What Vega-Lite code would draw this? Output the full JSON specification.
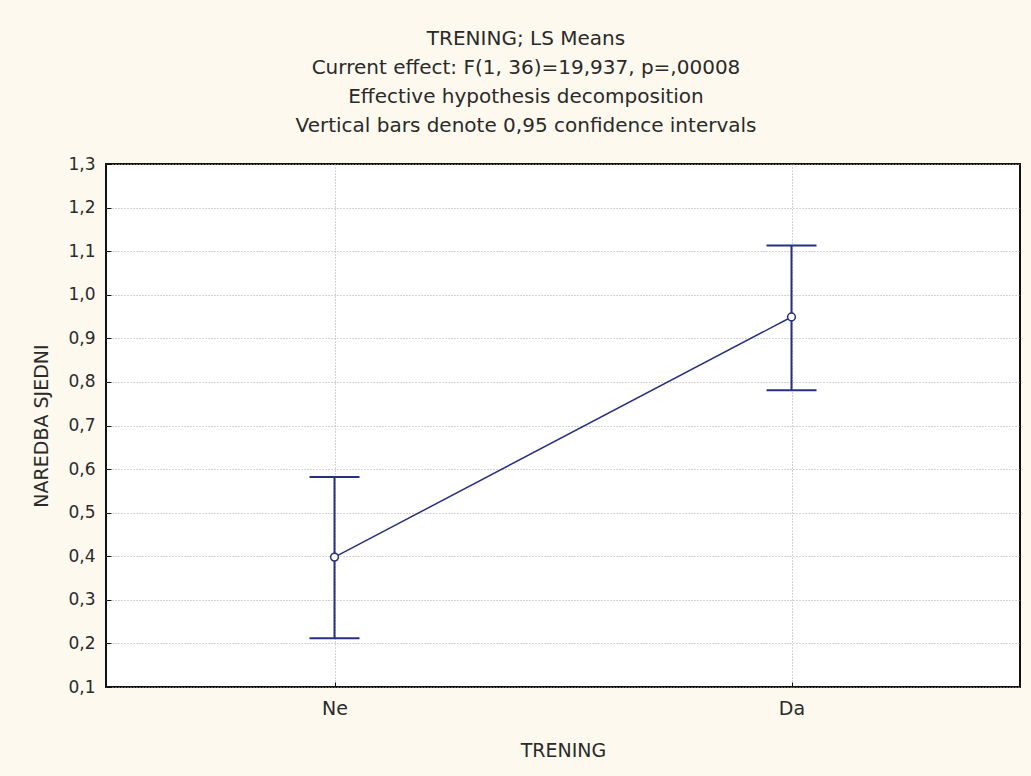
{
  "$schema": "https://vega.github.io/schema/vega-lite/v6.json",
  "autosize": {"type": "none"},
  "width": 914,
  "height": 523,
  "padding": {"left": 106, "top": 164, "right": 11, "bottom": 89},
  "background": "#fdf9ee",
  "title": {
    "text": ["TRENING; LS Means", "Current effect: F(1, 36)=19,937, p=,00008", "Effective hypothesis decomposition", "Vertical bars denote 0,95 confidence intervals"],
    "font": "DejaVu Sans",
    "fontSize": 20,
    "fontWeight": "normal",
    "color": "#2a2a2a",
    "lineHeight": 29,
    "anchor": "middle",
    "dx": -37,
    "offset": 19
  },
  "config": {
    "view": {"stroke": "#111111", "strokeWidth": 2, "fill": "#ffffff"},
    "font": "DejaVu Sans"
  },
  "data": {
    "values": [
      {"TRENING": "Ne", "mean": 0.398, "lo": 0.212, "hi": 0.582},
      {"TRENING": "Da", "mean": 0.949, "lo": 0.781, "hi": 1.113}
    ]
  },
  "encoding": {
    "x": {
      "field": "TRENING",
      "type": "nominal",
      "sort": ["Ne", "Da"],
      "scale": {"type": "point", "padding": 0.5},
      "axis": {
        "title": "TRENING",
        "titleFont": "DejaVu Sans",
        "titleFontSize": 19,
        "titleFontWeight": "normal",
        "titleColor": "#2a2a2a",
        "titlePadding": 23,
        "labelFont": "DejaVu Sans",
        "labelFontSize": 19,
        "labelColor": "#2a2a2a",
        "labelAngle": 0,
        "labelPadding": 17,
        "domain": false,
        "ticks": true,
        "tickSize": -5,
        "tickColor": "#111111",
        "grid": true,
        "gridColor": "#a8a8a8",
        "gridDash": [1, 2],
        "gridWidth": 1
      }
    }
  },
  "layer": [
    {
      "mark": {"type": "line", "color": "#27307f", "strokeWidth": 1.5},
      "encoding": {
        "y": {
          "field": "mean",
          "type": "quantitative",
          "scale": {"domain": [0.1, 1.3], "nice": false, "zero": false},
          "axis": {
            "title": "NAREDBA SJEDNI",
            "titleFont": "DejaVu Sans",
            "titleFontSize": 19,
            "titleFontWeight": "normal",
            "titleColor": "#2a2a2a",
            "titlePadding": 16,
            "values": [0.1, 0.2, 0.3, 0.4, 0.5, 0.6, 0.7, 0.8, 0.9, 1.0, 1.1, 1.2, 1.3],
            "labelExpr": "replace(format(datum.value, '.1f'), '.', ',')",
            "labelFont": "DejaVu Sans",
            "labelFontSize": 17,
            "labelColor": "#2a2a2a",
            "labelPadding": 16,
            "domain": false,
            "ticks": true,
            "tickSize": -5,
            "tickColor": "#111111",
            "grid": true,
            "gridColor": "#a8a8a8",
            "gridDash": [1, 2],
            "gridWidth": 1
          }
        }
      }
    },
    {
      "mark": {"type": "rule", "color": "#27307f", "strokeWidth": 2},
      "encoding": {
        "y": {"field": "lo", "type": "quantitative"},
        "y2": {"field": "hi"}
      }
    },
    {
      "mark": {"type": "tick", "color": "#27307f", "thickness": 2, "size": 50, "opacity": 1},
      "encoding": {"y": {"field": "lo", "type": "quantitative"}}
    },
    {
      "mark": {"type": "tick", "color": "#27307f", "thickness": 2, "size": 50, "opacity": 1},
      "encoding": {"y": {"field": "hi", "type": "quantitative"}}
    },
    {
      "mark": {"type": "point", "shape": "circle", "filled": true, "fill": "#ffffff", "stroke": "#27307f", "strokeWidth": 1.5, "size": 60, "opacity": 1},
      "encoding": {"y": {"field": "mean", "type": "quantitative"}}
    }
  ]
}
